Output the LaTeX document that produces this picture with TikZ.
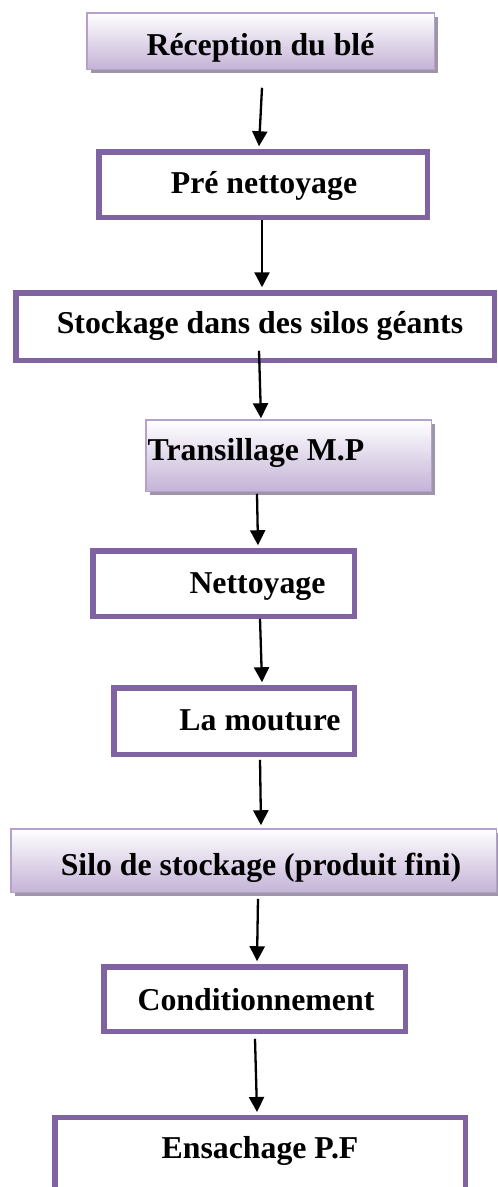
\documentclass[tikz,border=0pt]{standalone}
\usepackage{fontspec}
\setmainfont{Liberation Serif}
\usetikzlibrary{arrows.meta,calc,shadows}

\definecolor{boxpurple}{HTML}{8064A2}
\definecolor{lilacline}{HTML}{B4A2CC}
\definecolor{lilacfill}{HTML}{C4B3D7}
\definecolor{shadowc}{HTML}{9E96A8}

\begin{document}
\begin{tikzpicture}[x=1pt,y=-1pt,
  pbox/.style={draw=boxpurple, line width=5.5pt, fill=white, rectangle, inner sep=0pt},
  gbox/.style={draw=lilacline, line width=1.5pt, rectangle, inner sep=0pt,
    top color=white, bottom color=lilacfill,
    general shadow={fill=shadowc, shadow xshift=4pt, shadow yshift=-4pt}},
  lbl/.style={font=\fontsize{31.8}{36}\selectfont\bfseries, anchor=base, inner sep=0pt},
  arr/.style={line width=2.3pt, -{Triangle[width=15pt,length=15pt]}}]
\useasboundingbox (0,0) rectangle (498,1187);
\clip (0,0) rectangle (498,1187);

% process steps
\node[gbox, minimum width=347.5pt, minimum height=56.5pt] (b1) at (260.5,41) {};
\node[pbox, minimum width=328.5pt, minimum height=65.5pt] (b2) at (263,184.5) {};
\node[pbox, minimum width=478.5pt, minimum height=67.5pt] (b3) at (255,326.5) {};
\node[gbox, minimum width=285.5pt, minimum height=71.5pt] (b4) at (288.5,455.5) {};
\node[pbox, minimum width=261.5pt, minimum height=65.5pt] (b5) at (223.5,583.5) {};
\node[pbox, minimum width=240.5pt, minimum height=66.5pt] (b6) at (234,721) {};
\node[gbox, minimum width=485.5pt, minimum height=63.5pt] (b7) at (253.5,860.5) {};
\node[pbox, minimum width=301.5pt, minimum height=64.5pt] (b8) at (254.5,999) {};
\node[pbox, minimum width=410.5pt, minimum height=140pt, anchor=north] (b9) at (260,1114.75) {};

% step labels
\node[lbl] (t1) at (260.5,55) {Réception du blé};
\node[lbl] (t2) at (264,193) {Pré nettoyage};
\node[lbl] (t3) at (260,333) {Stockage dans des silos géants};
\node[lbl] (t4) at (256,460) {Transillage M.P};
\node[lbl] (t5) at (257.5,593) {Nettoyage};
\node[lbl] (t6) at (260,730) {La mouture};
\node[lbl] (t7) at (261,875) {Silo de stockage (produit fini)};
\node[lbl] (t8) at (256,1010) {Conditionnement};
\node[lbl] (t9) at (260,1158) {Ensachage P.F};

% flow
\draw[arr] ($(b1.south)+(1.5,17.75)$) -- ($(b2.north)+(-4,-2.75)$);
\draw[arr] ($(b2.south)+(-1,-0.25)$) -- ($(b3.north)+(7,-2.75)$);
\draw[arr] ($(b3.south)+(4,-12.25)$) -- ($(b4.north)+(-27.5,-0.75)$);
\draw[arr] ($(b4.south)+(-31.5,1.75)$) -- ($(b5.north)+(34.5,-2.75)$);
\draw[arr] ($(b5.south)+(36.5,-0.25)$) -- ($(b6.north)+(28,-2.75)$);
\draw[arr] ($(b6.south)+(26,2.75)$) -- ($(b7.north)+(7.5,-2.75)$);
\draw[arr] ($(b7.south)+(4.5,5.75)$) -- ($(b8.north)+(2.5,-2.75)$);
\draw[arr] ($(b8.south)+(0.5,4.75)$) -- ($(b9.north)+(-3,-2.75)$);
\end{tikzpicture}
\end{document}
